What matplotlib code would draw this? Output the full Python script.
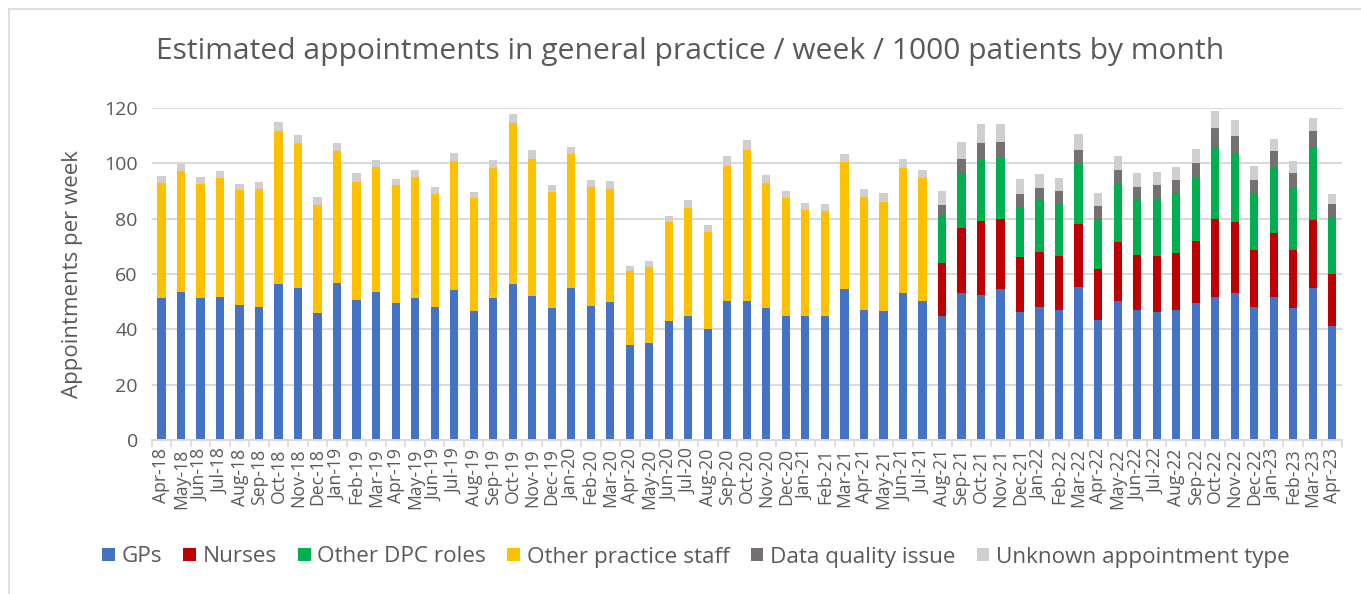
import matplotlib
matplotlib.use("Agg")
import matplotlib.pyplot as plt
from matplotlib.lines import Line2D
import numpy as np

plt.rcParams['font.family'] = ['Open Sans', 'DejaVu Sans']

months = ["Apr-18", "May-18", "Jun-18", "Jul-18", "Aug-18", "Sep-18", "Oct-18", "Nov-18", "Dec-18",
          "Jan-19", "Feb-19", "Mar-19", "Apr-19", "May-19", "Jun-19", "Jul-19", "Aug-19", "Sep-19",
          "Oct-19", "Nov-19", "Dec-19", "Jan-20", "Feb-20", "Mar-20", "Apr-20", "May-20", "Jun-20",
          "Jul-20", "Aug-20", "Sep-20", "Oct-20", "Nov-20", "Dec-20", "Jan-21", "Feb-21", "Mar-21",
          "Apr-21", "May-21", "Jun-21", "Jul-21", "Aug-21", "Sep-21", "Oct-21", "Nov-21", "Dec-21",
          "Jan-22", "Feb-22", "Mar-22", "Apr-22", "May-22", "Jun-22", "Jul-22", "Aug-22", "Sep-22",
          "Oct-22", "Nov-22", "Dec-22", "Jan-23", "Feb-23", "Mar-23", "Apr-23"]

gps = [51.4, 53.6, 51.4, 51.7, 48.9, 48.2, 56.3, 54.8, 45.9, 56.8, 50.5, 53.6, 49.6, 51.4, 48.2,
       54.1, 46.5, 51.4, 56.3, 52.2, 47.7, 55.1, 48.4, 49.9, 34.4, 34.9, 43.1, 44.9, 40.2, 50.4,
       50.4, 47.6, 44.7, 44.7, 44.7, 54.6, 47.1, 46.6, 53.0, 50.4, 45.0, 53.3, 52.3, 54.6, 46.1,
       47.9, 46.9, 55.2, 43.4, 50.4, 47.1, 46.4, 46.9, 49.5, 51.6, 53.0, 48.2, 51.8, 47.6, 55.1, 41.3]

nurses = [0] * 40 + [18.9, 23.3, 26.7, 25.1, 20.0, 20.2, 19.6, 22.8, 18.4, 21.1, 19.7, 20.1, 20.6,
                     22.5, 28.1, 25.7, 20.4, 23.1, 21.0, 24.4, 18.6]

other_dpc = [0] * 40 + [16.9, 19.8, 22.3, 22.2, 17.8, 18.5, 19.0, 21.8, 18.2, 21.1, 20.2, 20.7, 21.4,
                        22.8, 26.3, 25.2, 20.8, 23.8, 22.6, 25.9, 20.5]

other_staff = [41.6, 43.6, 41.1, 43.0, 41.3, 42.7, 55.4, 52.4, 39.1, 47.7, 42.9, 45.2, 42.4, 43.5,
               40.7, 46.9, 40.9, 47.0, 58.1, 49.5, 41.8, 48.3, 43.1, 41.0, 26.6, 27.7, 35.6, 39.0,
               34.9, 48.8, 54.4, 45.3, 42.6, 38.5, 38.0, 45.8, 40.6, 39.6, 45.3, 44.3] + [0] * 21

data_quality = [0] * 40 + [4.2, 5.3, 6.1, 5.8, 5.0, 4.5, 4.5, 5.1, 4.5, 5.1, 4.4, 4.8, 5.1, 5.3,
                           6.8, 6.0, 4.7, 5.6, 5.2, 6.2, 4.9]

unknown = [2.6, 2.4, 2.4, 2.5, 2.3, 2.5, 3.4, 3.2, 2.7, 2.7, 3.0, 2.5, 2.4, 2.6, 2.4, 2.6, 2.3, 2.7,
           3.4, 3.0, 2.6, 2.6, 2.5, 2.7, 1.9, 2.1, 2.1, 2.7, 2.6, 3.3, 3.8, 3.0, 2.7, 2.5, 2.6, 3.1,
           3.0, 2.9, 3.3, 2.9, 5.1, 5.9, 6.9, 6.6, 5.3, 4.9, 4.8, 5.8, 4.9, 5.1, 5.0, 4.7, 4.7, 5.0,
           6.2, 5.9, 4.9, 4.5, 4.3, 4.7, 3.7]

series = [("GPs", gps, "#4472C4"),
          ("Nurses", nurses, "#C00000"),
          ("Other DPC roles", other_dpc, "#00B050"),
          ("Other practice staff", other_staff, "#FFC000"),
          ("Data quality issue", data_quality, "#767171"),
          ("Unknown appointment type", unknown, "#D0CECE")]

W, H = 1361, 594
fig = plt.figure(figsize=(W / 100, H / 100), dpi=100)
fig.patch.set_facecolor("white")

# outer chart border (top and left visible)
fig.add_artist(Line2D([9 / W, 1.0], [1 - 9 / H, 1 - 9 / H], transform=fig.transFigure,
                      color="#D9D9D9", lw=1.2))
fig.add_artist(Line2D([9 / W, 9 / W], [0, 1 - 9 / H], transform=fig.transFigure,
                      color="#D9D9D9", lw=1.2))

ax = fig.add_axes([151.7 / W, 1 - 440 / H, (1342 - 151.7) / W, (440 - 108) / H])

x = np.arange(len(months))
bottom = np.zeros(len(months))
for name, vals, col in series:
    v = np.array(vals, dtype=float)
    ax.bar(x, v, width=0.42, bottom=bottom, color=col, label=name, zorder=3, linewidth=0)
    bottom += v

ax.set_xlim(-0.5, len(months) - 0.5)
ax.set_ylim(0, 120)
ax.set_yticks(np.arange(0, 121, 20))
ax.yaxis.grid(True, color="#D9D9D9", lw=1.4, zorder=0)
ax.set_axisbelow(True)
for s in ["top", "right", "left"]:
    ax.spines[s].set_visible(False)
ax.spines["bottom"].set_color("#D9D9D9")
ax.spines["bottom"].set_linewidth(1.4)
ax.spines["bottom"].set_zorder(4)

ax.set_xticks(x)
ax.set_xticklabels(months, rotation=90, fontsize=12.7, color="#595959")
ax.set_xticks(np.arange(-0.5, len(months), 1), minor=True)
ax.tick_params(axis="x", which="major", length=0, pad=6)
ax.tick_params(axis="x", which="minor", length=5, color="#D9D9D9", width=1.2)
ax.tick_params(axis="y", length=0, labelsize=14, labelcolor="#595959", pad=10)

ax.set_ylabel("Appointments per week", fontsize=16, color="#595959", labelpad=15)

fig.text(690 / W, 1 - 51 / H, "Estimated appointments in general practice / week / 1000 patients by month",
         ha="center", va="center", fontsize=21.6, color="#595959")

handles, labels = ax.get_legend_handles_labels()
leg = fig.legend(handles, labels, loc="center", bbox_to_anchor=(696 / W, 1 - 557 / H), ncol=6,
                 frameon=False, fontsize=16.2, handlelength=0.55, handleheight=0.55,
                 handletextpad=0.3, columnspacing=0.95, labelcolor="#595959")

fig.savefig("out.png", dpi=100, facecolor="white")
